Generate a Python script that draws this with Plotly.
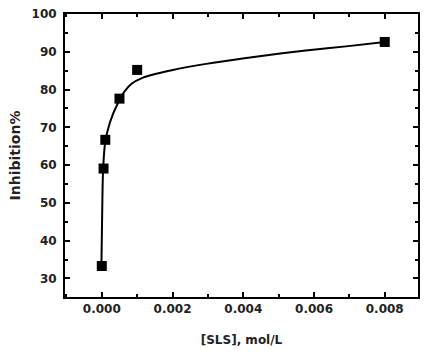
import plotly.graph_objects as go

# Measured data
sls_conc = [0.0, 0.00005, 0.0001, 0.0005, 0.001, 0.008]
inhibition = [33.3, 59.1, 66.7, 77.6, 85.2, 92.6]

# Fitted curve
fit_x = [-0.00001, 0.00001, 0.00004, 0.0001, 0.00023, 0.00045, 0.00065, 0.00085,
         0.00115, 0.00154, 0.00201, 0.00295, 0.00403, 0.0051, 0.00604, 0.00697, 0.008]
fit_y = [33.7, 46.5, 59.3, 66.2, 71.3, 76.3, 79.6, 81.6,
         83.1, 84.2, 85.2, 86.8, 88.3, 89.6, 90.6, 91.5, 92.6]

x_ticks = [0.000, 0.002, 0.004, 0.006, 0.008]
x_tick_labels = ["0.000", "0.002", "0.004", "0.006", "0.008"]
y_ticks = [30, 40, 50, 60, 70, 80, 90, 100]

FONT = "DejaVu Sans"

fig = go.Figure()
fig.add_trace(go.Scatter(x=fit_x, y=fit_y, mode="lines",
                         line=dict(color="black", width=2, shape="spline", smoothing=1.0),
                         showlegend=False, hoverinfo="skip"))
fig.add_trace(go.Scatter(x=sls_conc, y=inhibition, mode="markers",
                         marker=dict(symbol="square", size=10, color="black"),
                         showlegend=False))

axis_common = dict(showline=True, linecolor="black", linewidth=2, mirror="ticks",
                   ticks="inside", ticklen=5, tickwidth=2, tickcolor="black",
                   showgrid=False, zeroline=False,
                   tickfont=dict(family=FONT, size=12, color="#222", weight="bold"))

fig.update_xaxes(range=[-0.00104, 0.00894], tickvals=x_ticks, ticktext=x_tick_labels,
                 minor=dict(dtick=0.001, ticks="inside", ticklen=3, tickwidth=1.5, tickcolor="black"),
                 title=dict(text="<b>[SLS], mol/L</b>", font=dict(family=FONT, size=12, color="#222"), standoff=20),
                 **axis_common)
fig.update_yaxes(range=[25.1, 100], tickvals=y_ticks,
                 minor=dict(dtick=5, ticks="inside", ticklen=3, tickwidth=1.5, tickcolor="black"),
                 title=dict(text="<b>Inhibition%</b>", font=dict(family=FONT, size=14, color="#222"), standoff=8),
                 ticklabelstandoff=4,
                 **axis_common)
fig.update_layout(width=427, height=352, margin=dict(l=65, r=7, t=7, b=52),
                  paper_bgcolor="white", plot_bgcolor="white")

fig.write_html("out.html")
